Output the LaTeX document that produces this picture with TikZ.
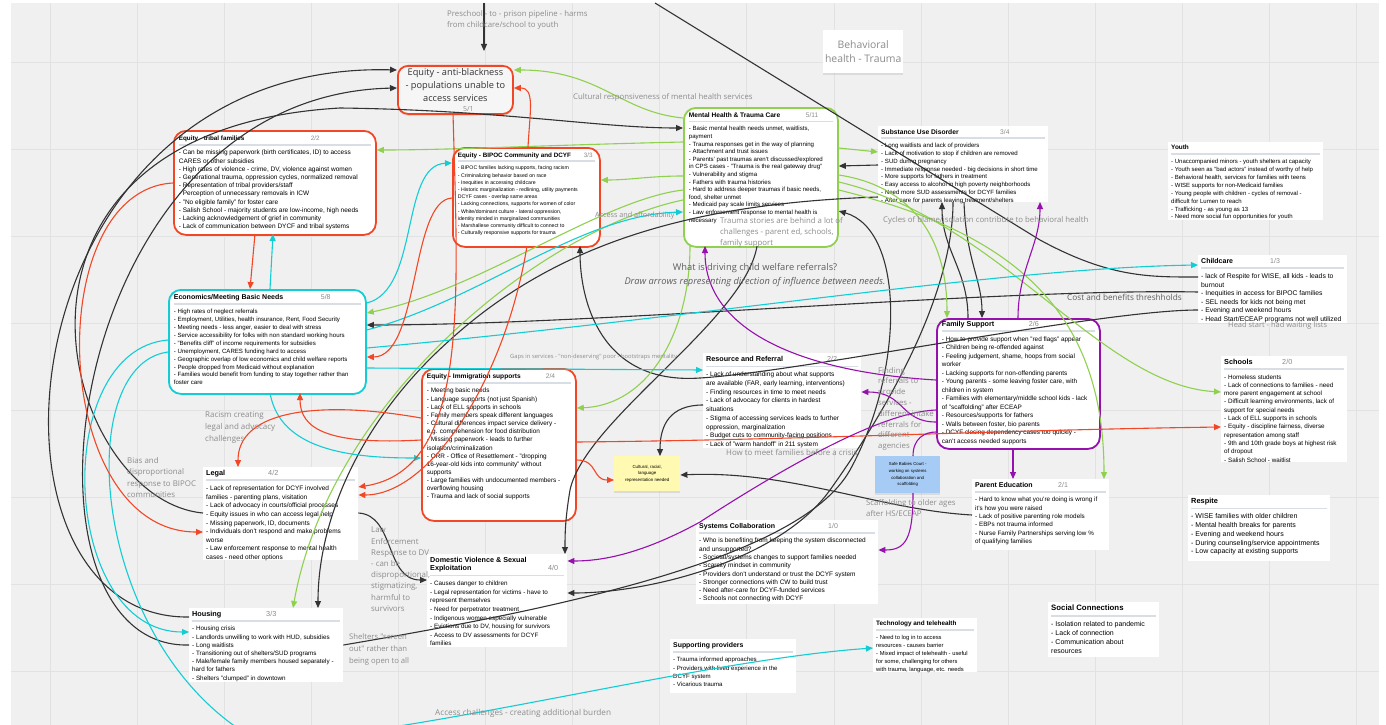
\documentclass[tikz,border=0pt]{standalone}
\usepackage{fontspec}
\setmainfont{Liberation Sans}
\newfontfamily\lblfont{Open Sans}
\usetikzlibrary{arrows.meta,shadows}

\definecolor{bgc}{HTML}{F0F0F0}
\definecolor{gridc}{HTML}{E2E2E2}
\definecolor{lnblack}{HTML}{333333}
\definecolor{lngreen}{HTML}{8FD14F}
\definecolor{lncyan}{HTML}{12CDD4}
\definecolor{lnred}{HTML}{F24726}
\definecolor{lnpurple}{HTML}{9510AC}
\definecolor{sepc}{HTML}{D9DDE4}
\definecolor{cntc}{HTML}{8A8A8A}
\definecolor{lblc}{HTML}{8C8C8C}
\definecolor{qc}{HTML}{5E5E5E}
\definecolor{stky}{HTML}{FFF9B1}
\definecolor{stkb}{HTML}{A6CCF5}
\definecolor{abfill}{HTML}{F6F6F6}

% card header: title, count, space right of count, size
\newcommand{\hd}[4]{\makebox[\linewidth][l]{\fontsize{#4}{#4}\selectfont\bfseries #1\hfill\makebox[#3][l]{\mdseries\color{cntc}#2}}\\[-2pt]\textcolor{sepc}{\rule[1pt]{\linewidth}{1.6pt}}\\}
% card text: width, height, size, leading, header, lines
\newcommand{\cardtxt}[6]{\parbox[c][#2][t]{#1}{\fontsize{#3}{#4}\selectfont#5\makebox[\linewidth][l]{\parbox[t]{500pt}{\raggedright#6}}}}

\begin{document}
\begin{tikzpicture}[x=1pt, y=-1pt, >={Triangle[length=7pt,width=6pt]},
  frm/.style={draw=#1, line width=1.8pt, rounded corners=12pt, fill=white, inner sep=5pt, anchor=north west},
  crd/.style={fill=white, inner sep=3pt, anchor=north west},
  lbl/.style={anchor=north west, inner sep=0pt, align=left, text=lblc},
  note/.style={anchor=north west, inner sep=0pt, align=center, drop shadow={opacity=0.18,shadow xshift=0pt,shadow yshift=-2pt}},
  blkl/.style={draw=lnblack, line width=1.1pt},
  grnl/.style={draw=lngreen, line width=1.1pt},
  cynl/.style={draw=lncyan, line width=1.1pt},
  redl/.style={draw=lnred, line width=1.1pt},
  purl/.style={draw=lnpurple, line width=1.1pt}]

\useasboundingbox (0,0) rectangle (1386,725);
\fill[white] (0,0) rectangle (1386,725);
\fill[bgc] (11,3) rectangle (1379,725);
\foreach \k in {0,...,15}
  \draw[gridc, line width=0.8pt] ({50+87.1*\k},3) -- ({50+87.1*\k},725);
\foreach \k in {0,...,7}
  \draw[gridc, line width=0.8pt] (11,{62+87.1*\k}) -- (1379,{62+87.1*\k});

% sticky notes
\node[note, draw=lnred, line width=1.8pt, rounded corners=10pt, fill=abfill, minimum width=115pt, minimum height=48pt,
  font=\lblfont\fontsize{9.2}{13}\selectfont, text=black!80] (antiblack) at (397,65)
  {Equity - anti-blackness\\- populations unable to\\access services\\[-3.5pt]{\fontsize{7}{7}\selectfont\color{cntc}\hspace{26pt}5/1}};
\node[note, fill=white, minimum width=80pt, minimum height=43pt, font=\lblfont\fontsize{10.4}{14}\selectfont, text=lblc] (bhtrauma) at (823,30)
  {Behavioral\\health - Trauma};
\node[note, fill=stky, minimum width=66pt, minimum height=35pt, font=\fontsize{4.4}{6.5}\selectfont] (culture) at (614,456)
  {Cultural, racial,\\language\\representation needed};
\node[note, fill=stkb, minimum width=65pt, minimum height=37pt, font=\fontsize{4.3}{6.6}\selectfont] (babies) at (875,456)
  {Safe Babies Court -\\working on systems\\collaboration and\\scaffolding};

% framed cards
\node[frm=lnred] (tribal) at (173,130) {\cardtxt{192pt}{94pt}{6.5}{8.2}{\hd{Equity - tribal families}{2/2}{60pt}{6.3}}{%
- Can be missing paperwork (birth certificates, ID) to access\\CARES or other subsidies\\- High rates of violence - crime, DV, violence against women\\- Generational trauma, oppression cycles, normalized removal\\- Representation of tribal providers/staff\\- Perception of unnecessary removals in ICW\\- "No eligible family" for foster care\\- Salish School - majority students are low-income, high needs\\- Lacking acknowledgement of grief in community\\- Lack of communication between DYCF and tribal systems}};

\node[frm=lnred] (bipoc) at (452,147) {\cardtxt{137pt}{89pt}{5.2}{7.2}{\hd{Equity - BIPOC Community and DCYF}{3/3}{11pt}{6.3}}{%
- BIPOC families lacking supports, facing racism\\- Criminalizing behavior based on race\\- Inequities in accessing childcare\\- Historic marginalization - redlining, utility payments\\DCYF cases - overlap same areas\\- Lacking connections, supports for women of color\\- White/dominant culture - lateral oppression,\\identity minded in marginalized communities\\- Marshallese community difficult to connect to\\- Culturally responsive supports for trauma}};

\node[frm=lngreen] (mh) at (683,107) {\cardtxt{144pt}{129pt}{6.1}{7.6}{\hd{Mental Health \& Trauma Care}{5/11}{27pt}{6.6}}{%
- Basic mental health needs unmet, waitlists,\\payment\\- Trauma responses get in the way of planning\\- Attachment and trust issues\\- Parents' past traumas aren't discussed/explored\\in CPS cases - "Trauma is the real gateway drug"\\- Vulnerability and stigma\\- Fathers with trauma histories\\- Hard to address deeper traumas if basic needs,\\food, shelter unmet\\- Medicaid pay scale limits services\\- Law enforcement response to mental health is\\necessary}};

\node[frm=lncyan] (eco) at (168,289) {\cardtxt{187pt}{94pt}{6.1}{7.9}{\hd{Economics/Meeting Basic Needs}{5/8}{40pt}{7}}{%
- High rates of neglect referrals\\- Employment, Utilities, health insurance, Rent, Food Security\\- Meeting needs - less anger, easier to deal with stress\\- Service accessibility for folks with non standard working hours\\- "Benefits cliff" of income requirements for subsidies\\- Unemployment, CARES funding hard to access\\- Geographic overlap of low economics and child welfare reports\\- People dropped from Medicaid without explanation\\- Families would benefit from funding to stay together rather than\\foster care}};

\node[frm=lnpurple, inner ysep=2pt] (fs) at (936,318) {\cardtxt{153pt}{126pt}{6.4}{8.5}{\hd{Family Support}{2/6}{66pt}{7.2}}{%
- How to provide support when "red flags" appear\\- Children being re-offended against\\- Feeling judgement, shame, hoops from social\\worker\\- Lacking supports for non-offending parents\\- Young parents - some leaving foster care, with\\children in system\\- Families with elementary/middle school kids - lack\\of "scaffolding" after ECEAP\\- Resources/supports for fathers\\- Walls between foster, bio parents\\- DCYF closing dependency cases too quickly -\\can't access needed supports}};

\node[frm=lnred] (imm) at (421,368) {\cardtxt{144pt}{142pt}{6.4}{8.15}{\hd{Equity - Immigration supports}{2/4}{25pt}{6.6}}{%
- Meeting basic needs\\- Language supports (not just Spanish)\\- Lack of ELL supports in schools\\- Family members speak different languages\\- Cultural differences impact service delivery -\\e.g. comprehension for food distribution\\- Missing paperwork - leads to further\\isolation/criminalization\\- ORR - Office of Resettlement - "dropping\\16-year-old kids into community" without\\supports\\- Large families with undocumented members -\\overflowing housing\\- Trauma and lack of social supports}};

% plain cards
\node[crd] (sud) at (878,126) {\cardtxt{164pt}{70pt}{6.1}{7.8}{\hd{Substance Use Disorder}{3/4}{45pt}{6.7}}{%
- Long waitlists and lack of providers\\- Lack of motivation to stop if children are removed\\- SUD during pregnancy\\- Immediate response needed - big decisions in short time\\- More supports for fathers in treatment\\- Easy access to alcohol in high poverty neighborhoods\\- Need more SUD assessments for DCYF families\\- After care for parents leaving treatment/shelters}};

\node[crd] (youth) at (1168,142) {\cardtxt{149pt}{72pt}{6.0}{7.9}{\hd{Youth}{}{0pt}{6.4}}{%
- Unaccompanied minors - youth shelters at capacity\\- Youth seen as "bad actors" instead of worthy of help\\- Behavioral health, services for families with teens\\- WISE supports for non-Medicaid families\\- Young people with children - cycles of removal -\\difficult for Lumen to reach\\- Trafficking - as young as 13\\- Need more social fun opportunities for youth}};

\node[crd] (childcare) at (1198,255) {\cardtxt{143pt}{62pt}{6.8}{8.6}{\hd{Childcare}{1/3}{74pt}{7}}{%
- lack of Respite for WISE, all kids - leads to\\burnout\\- Inequities in access for BIPOC families\\- SEL needs for kids not being met\\- Evening and weekend hours\\- Head Start/ECEAP programs not well utilized}};

\node[crd] (schools) at (1221,356) {\cardtxt{120pt}{100pt}{6.3}{8.3}{\hd{Schools}{2/0}{62pt}{7.3}}{%
- Homeless students\\- Lack of connections to families - need\\more parent engagement at school\\- Difficult learning environments, lack of\\support for special needs\\- Lack of ELL supports in schools\\- Equity - discipline fairness, diverse\\representation among staff\\- 9th and 10th grade boys at highest risk\\of dropout\\- Salish School - waitlist}};

\node[crd] (rr) at (703,353) {\cardtxt{152pt}{89pt}{6.5}{8.7}{\hd{Resource and Referral}{2/2}{31pt}{7.2}}{%
- Lack of understanding about what supports\\are available (FAR, early learning, interventions)\\- Finding resources in time to meet needs\\- Lack of advocacy for clients in hardest\\situations\\- Stigma of accessing services leads to further\\oppression, marginalization\\- Budget cuts to community-facing positions\\- Lack of "warm handoff" in 211 system}};

\node[crd] (legal) at (203,467) {\cardtxt{149pt}{87pt}{6.5}{8.6}{\hd{Legal}{4/2}{87pt}{7.3}}{%
- Lack of representation for DCYF involved\\families - parenting plans, visitation\\- Lack of advocacy in courts/official processes\\- Equity issues in who can access legal help\\- Missing paperwork, ID, documents\\- Individuals don't respond and make problems\\worse\\- Law enforcement response to mental health\\cases - need other options}};

\node[crd] (dv) at (427,554) {\parbox[c][87pt][t]{134pt}{\fontsize{6.3}{8.6}\selectfont
{\fontsize{7.2}{7.2}\selectfont\bfseries Domestic Violence \& Sexual}\\[-0.5pt]%
\makebox[\linewidth][l]{\fontsize{7.2}{7.2}\selectfont\bfseries Exploitation\hfill\makebox[16pt][l]{\mdseries\color{cntc}4/0}}\\[-2pt]%
\textcolor{sepc}{\rule[1pt]{\linewidth}{1.6pt}}\\%
\makebox[\linewidth][l]{\parbox[t]{500pt}{\raggedright
- Causes danger to children\\- Legal representation for victims - have to\\represent themselves\\- Need for perpetrator treatment\\- Indigenous women especially vulnerable\\- Evictions due to DV, housing for survivors\\- Access to DV assessments for DCYF\\families}}}};

\node[crd] (housing) at (189,608) {\cardtxt{148pt}{68pt}{6.3}{8.2}{\hd{Housing}{3/3}{74pt}{7.3}}{%
- Housing crisis\\- Landlords unwilling to work with HUD, subsidies\\- Long waitlists\\- Transitioning out of shelters/SUD programs\\- Male/female family members housed separately -\\hard for fathers\\- Shelters "clumped" in downtown}};

\node[crd] (sysc) at (696,520) {\cardtxt{176pt}{78pt}{6.5}{8.3}{\hd{Systems Collaboration}{1/0}{47pt}{7}}{%
- Who is benefiting from keeping the system disconnected\\and unsupported?\\- Societal/systems changes to support families needed\\- Scarcity mindset in community\\- Providers don't understand or trust the DCYF system\\- Stronger connections with CW to build trust\\- Need after-care for DCYF-funded services\\- Schools not connecting with DCYF}};

\node[crd] (parented) at (972,479) {\cardtxt{131pt}{65pt}{6.3}{8.3}{\hd{Parent Education}{2/1}{48pt}{7}}{%
- Hard to know what you're doing is wrong if\\it's how you were raised\\- Lack of positive parenting role models\\- EBPs not trauma informed\\- Nurse Family Partnerships serving low \%\\of qualifying families}};

\node[crd] (tech) at (873,618) {\cardtxt{98pt}{48pt}{5.8}{8.0}{\hd{Technology and telehealth}{}{0pt}{6.4}}{%
- Need to log in to access\\resources - causes barrier\\- Mixed impact of telehealth - useful\\for some, challenging for others\\with trauma, language, etc. needs}};

\node[crd] (supp) at (670,639) {\cardtxt{120pt}{48pt}{6.1}{8.3}{\hd{Supporting providers}{}{0pt}{6.9}}{%
- Trauma informed approaches\\- Providers with lived experience in the\\DCYF system\\- Vicarious trauma}};

\node[crd] (respite) at (1188,495) {\cardtxt{136pt}{60pt}{7.0}{8.7}{\hd{Respite}{}{0pt}{7.4}}{%
- WISE families with older children\\- Mental health breaks for parents\\- Evening and weekend hours\\- During counseling/service appointments\\- Low capacity at existing supports}};

\node[crd] (social) at (1048,602) {\cardtxt{105pt}{49pt}{7.0}{9}{\hd{Social Connections}{}{0pt}{7.8}}{%
- Isolation related to pandemic\\- Lack of connection\\- Communication about\\resources}};

% connectors
\begin{scope}
\clip (11,3) rectangle (1379,725);
\coordinate (topa) at (484,3);
\coordinate (topb) at (655,3);

% black
\draw[blkl,->] (topa) -- ([shift={(87,-14)}]antiblack.north west);
\draw[blkl,->] ([shift={(0,9)}]housing.north west) .. controls (-40,620) and (0,60) .. ([shift={(0,5)}]antiblack.north west);
\draw[blkl,->] ([shift={(0,37)}]housing.north west) .. controls (0,650) and (60,95) .. ([shift={(0,23)}]antiblack.north west);
\draw[blkl,->] ([shift={(0,46)}]legal.north west) .. controls (60,500) and (-40,130) .. (340,108) .. controls (500,110) and (600,128) .. ([shift={(0,21)}]mh.north west);
\draw[blkl,->] ([shift={(0,37)}]childcare.north west) .. controls (1000,288) and (600,325) .. ([shift={(0,36)}]eco.north east);
\draw[blkl,->] ([shift={(0,55)}]childcare.north west) .. controls (1100,310) and (800,372) .. (700,378) .. controls (600,385) and (580,300) .. ([shift={(128,99)}]bipoc.north west);
\draw[blkl] (topb) -- (1040,240) .. controls (1110,278) and (1150,277) .. ([shift={(0,22)}]childcare.north west);
\draw[blkl,->] ([shift={(0,39)}]sud.north west) -- ([shift={(0,59)}]mh.north east);
\draw[blkl,->] ([shift={(0,71)}]sud.north west) .. controls (700,203) and (560,240) .. (450,340) .. controls (360,420) and (318,520) .. ([shift={(129,0)}]housing.north west);
\draw[blkl,->] ([shift={(0,52)}]rr.north west) .. controls (670,405) and (660,425) .. ([shift={(46,0)}]culture.north west);
\draw[blkl,->] ([shift={(0,36)}]parented.north west) .. controls (880,510) and (790,470) .. ([shift={(0,19)}]culture.north east);
\draw[blkl,->] ([shift={(0,46)}]legal.north east) .. controls (395,515) and (385,580) .. ([shift={(0,26)}]dv.north west);
\draw[blkl,->] ([shift={(74,139)}]mh.north west) .. controls (745,320) and (585,420) .. (570,490) .. controls (565,520) and (565,535) .. ([shift={(138,0)}]dv.north west);
\draw[blkl,->] ([shift={(86,76)}]sud.north west) .. controls (966,260) and (982,280) .. ([shift={(46,0)}]fs.north west);
\draw[blkl,->] ([shift={(32,0)}]fs.north west) .. controls (968,270) and (942,250) .. ([shift={(64,76)}]sud.north west);
\draw[blkl,->] ([shift={(75,76)}]sud.north west) .. controls (953,300) and (880,420) .. (830,490) .. controls (780,560) and (650,593) .. ([shift={(0,39)}]dv.north east);
\draw[blkl,->] ([shift={(0,37)}]housing.north east) .. controls (550,610) and (800,560) .. (850,470) .. controls (905,370) and (905,230) .. ([shift={(0,104)}]mh.north east);

% green
\draw[grnl,->] ([shift={(0,11)}]mh.north west) .. controls (620,112) and (600,70) .. ([shift={(0,5)}]antiblack.north east);
\draw[grnl,->] ([shift={(0,35)}]mh.north west) .. controls (550,145) and (450,150) .. ([shift={(0,20)}]tribal.north east);
\draw[grnl,->] ([shift={(0,69)}]mh.north west) .. controls (650,176) and (630,180) .. ([shift={(0,33)}]bipoc.north east);
\draw[grnl,->] ([shift={(0,41)}]mh.north east) -- ([shift={(0,26)}]sud.north west);
\draw[grnl,->] ([shift={(0,83)}]mh.north west) .. controls (600,200) and (480,290) .. ([shift={(0,24)}]eco.north east);
\draw[grnl,->] ([shift={(0,93)}]mh.north west) .. controls (540,230) and (330,400) .. ([shift={(104,0)}]housing.north west);
\draw[grnl,->] ([shift={(7,139)}]mh.north west) .. controls (690,330) and (650,405) .. ([shift={(0,40)}]imm.north east);
\draw[grnl,->] ([shift={(0,68)}]mh.north east) .. controls (905,185) and (947,230) .. ([shift={(11,0)}]fs.north west);
\draw[grnl,->] ([shift={(0,75)}]mh.north east) .. controls (1000,220) and (1100,385) .. ([shift={(0,36)}]schools.north west);
\draw[grnl,->] ([shift={(0,83)}]mh.north east) .. controls (1000,230) and (1104,300) .. ([shift={(132,0)}]parented.north west);

% cyan
\draw[cynl,->] ([shift={(102,0)}]eco.north west) -- ([shift={(100,104)}]tribal.north west);
\draw[cynl,->] ([shift={(0,14)}]eco.north east) .. controls (420,290) and (400,165) .. ([shift={(0,16)}]bipoc.north west);
\draw[cynl,->] ([shift={(0,41)}]eco.north east) .. controls (480,300) and (580,215) .. ([shift={(0,105)}]mh.north west);
\draw[cynl,->] ([shift={(0,59)}]eco.north east) .. controls (700,318) and (1000,268) .. ([shift={(0,10)}]childcare.north west);
\draw[cynl,->] ([shift={(0,79)}]eco.north east) -- ([shift={(0,17)}]rr.north west);
\draw[cynl,->] ([shift={(102,104)}]eco.north west) .. controls (280,450) and (350,458) .. ([shift={(0,90)}]imm.north west);
\draw[cynl,->] ([shift={(0,51)}]eco.north west) .. controls (50,350) and (60,632) .. ([shift={(0,24)}]housing.north west);
\draw[cynl,->] ([shift={(0,63)}]eco.north west) .. controls (70,365) and (90,650) .. (260,742) .. controls (420,735) and (700,660) .. ([shift={(0,30)}]tech.north west);

% red
\draw[redl,->] ([shift={(82,104)}]tribal.north west) -- ([shift={(82,0)}]eco.north west);
\draw[redl,->] ([shift={(76,0)}]bipoc.north west) .. controls (530,110) and (535,88) .. ([shift={(0,23)}]antiblack.north east);
\draw[redl,->] ([shift={(56,48)}]antiblack.north west) .. controls (458,300) and (470,470) .. ([shift={(0,20)}]legal.north east);
\draw[redl,->] ([shift={(75,99)}]bipoc.north west) .. controls (505,380) and (430,495) .. ([shift={(0,28)}]legal.north east);
\draw[redl,->] ([shift={(0,51)}]bipoc.north west) .. controls (410,200) and (420,357) .. ([shift={(0,68)}]eco.north east);
\draw[redl,->] ([shift={(0,72)}]imm.north west) .. controls (330,445) and (300,430) .. ([shift={(132,104)}]eco.north west);
\draw[redl,->] ([shift={(0,50)}]imm.north west) .. controls (320,400) and (238,410) .. ([shift={(35,0)}]legal.north west);
\draw[redl,->] ([shift={(0,74)}]imm.north east) .. controls (800,440) and (1000,430) .. ([shift={(0,71)}]schools.north west);
\draw[redl,->] ([shift={(0,92)}]imm.north east) .. controls (598,460) and (592,480) .. ([shift={(0,24)}]culture.north west);
\draw[redl,->] ([shift={(0,53)}]tribal.north west) .. controls (40,190) and (50,532) .. ([shift={(0,65)}]legal.north west);

% purple
\draw[purl,->] ([shift={(0,104)}]fs.north west) .. controls (900,422) and (905,392) .. ([shift={(0,39)}]rr.north east);
\draw[purl,->] ([shift={(0,62)}]fs.north west) .. controls (800,372) and (705,330) .. ([shift={(22,139)}]mh.north west);
\draw[purl,->] ([shift={(82,0)}]fs.north west) .. controls (1018,270) and (1040,245) .. ([shift={(162,76)}]sud.north west);
\draw[purl,->] ([shift={(77,130)}]fs.north west) -- ([shift={(41,0)}]parented.north west);
\draw[purl,->] ([shift={(38,37)}]babies.north west) .. controls (913,540) and (905,550) .. ([shift={(0,30)}]sysc.north east);
\draw[purl] ([shift={(38,0)}]babies.north west) .. controls (913,438) and (925,432) .. ([shift={(0,114)}]fs.north west);
\draw[purl,->] ([shift={(0,92)}]fs.north west) .. controls (880,412) and (780,470) .. (700,522) .. controls (640,555) and (600,561) .. ([shift={(0,7)}]dv.north east);
\end{scope}

% labels
\node[lbl, font=\lblfont\fontsize{7.8}{11.5}\selectfont] (pipeline) at (447,10) {Preschool - to - prison pipeline - harms\\from childcare/school to youth};
\node[lbl, font=\lblfont\fontsize{7.8}{9}\selectfont] (culturalresp) at (573,93) {Cultural responsiveness of mental health services};
\node[lbl, font=\lblfont\fontsize{7.2}{9}\selectfont] (afford) at (595,212) {Access and affordability};
\node[lbl, font=\lblfont\fontsize{7.8}{9}\selectfont] (cycles) at (883,216) {Cycles of blame/isolation contribute to behavioral health};
\node[lbl, font=\lblfont\fontsize{7.8}{11}\selectfont] (stories) at (720,217) {Trauma stories are behind a lot of\\challenges - parent ed, schools,\\family support};
\node[anchor=center, inner sep=0pt, align=center, text=qc, font=\lblfont\fontsize{9.3}{14}\selectfont] (question) at (755,275)
  {What is driving child welfare referrals?\\\textit{Draw arrows representing direction of influence between needs.}};
\node[lbl, text=qc, font=\lblfont\fontsize{8.2}{9}\selectfont] (thresholds) at (1067,294) {Cost and benefits threshholds};
\node[lbl, font=\lblfont\fontsize{7.5}{9}\selectfont] (headstart) at (1228,322) {Head start - had waiting lists};
\node[lbl, font=\lblfont\fontsize{5.8}{7}\selectfont] (gaps) at (510,354) {Gaps in services - "non-deserving" poor - bootstraps mentality};
\node[lbl, font=\lblfont\fontsize{8}{12}\selectfont] (racism) at (205,411) {Racism creating\\legal and advocacy\\challenges};
\node[lbl, font=\lblfont\fontsize{7.9}{11.5}\selectfont] (bias) at (127,457) {Bias and\\disproportional\\response to BIPOC\\communities};
\node[lbl, font=\lblfont\fontsize{7.9}{9}\selectfont] (meet) at (726,449) {How to meet families before a crisis};
\node[lbl, font=\lblfont\fontsize{7.8}{10.8}\selectfont] (finding) at (878,367) {Finding\\referrals to\\provide\\services -\\different intake\\referrals for\\different\\agencies};
\node[lbl, font=\lblfont\fontsize{7.9}{11.2}\selectfont] (lawdv) at (371,527) {Law\\Enforcement\\Response to DV\\- can be\\disproportional,\\stigmatizing,\\harmful to\\survivors};
\node[lbl, font=\lblfont\fontsize{7.7}{12}\selectfont] (shelters) at (349,633) {Shelters "screen\\out" rather than\\being open to all};
\node[lbl, font=\lblfont\fontsize{7.8}{11.5}\selectfont] (scaffold) at (866,499) {Scaffolding to older ages\\after HS/ECEAP};
\node[lbl, font=\lblfont\fontsize{8.2}{9}\selectfont] (burden) at (435,709) {Access challenges - creating additional burden};
\end{tikzpicture}
\end{document}
